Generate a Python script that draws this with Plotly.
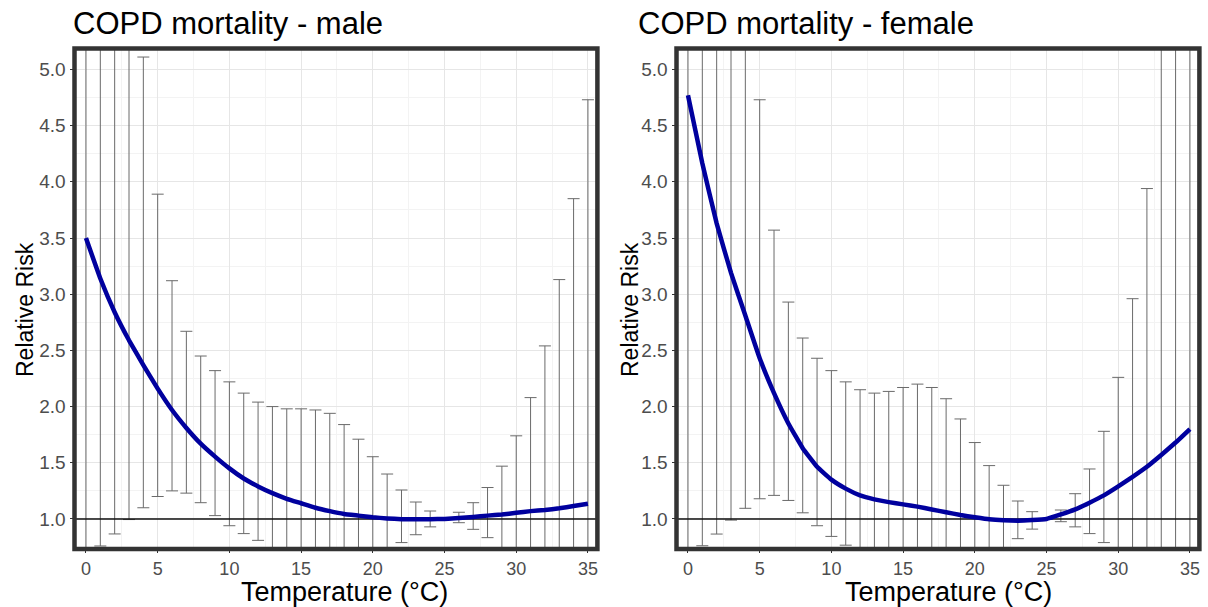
import plotly.graph_objects as go

# ---------------- data ----------------
temps = list(range(0, 36))

rr_male = [3.50, 3.14, 2.84, 2.59, 2.37, 2.16, 1.97, 1.81, 1.67, 1.555,
           1.45, 1.36, 1.29, 1.23, 1.18, 1.14, 1.10, 1.07, 1.045, 1.03,
           1.015, 1.005, 0.998, 0.997, 0.998, 1.0, 1.008, 1.018, 1.03, 1.04,
           1.055, 1.07, 1.08, 1.095, 1.115, 1.135]
lo_male = [0.60, 0.76, 0.867, 0.995, 1.10, 1.20, 1.25, 1.23, 1.145, 1.03,
           0.94, 0.87, 0.81, 0.745, 0.72, 0.71, 0.70, 0.70, 0.70, 0.70,
           0.71, 0.725, 0.79, 0.86, 0.93, 1.0, 0.967, 0.908, 0.834, 0.72,
           0.64, 0.56, 0.48, 0.40, 0.33, 0.27]
hi_male = [12.0, 10.0, 8.3, 6.7, 5.11, 3.89, 3.12, 2.67, 2.45, 2.32,
           2.22, 2.12, 2.04, 2.00, 1.98, 1.98, 1.97, 1.94, 1.84, 1.71,
           1.554, 1.40, 1.258, 1.151, 1.071, 1.0, 1.06, 1.145, 1.28, 1.47,
           1.74, 2.08, 2.54, 3.13, 3.85, 4.73]

rr_female = [4.77, 4.165, 3.63, 3.19, 2.81, 2.43, 2.12, 1.85, 1.63, 1.465,
             1.35, 1.27, 1.21, 1.175, 1.15, 1.13, 1.11, 1.085, 1.06, 1.035,
             1.015, 0.997, 0.988, 0.985, 0.99, 1.0, 1.04, 1.085, 1.145, 1.21,
             1.29, 1.375, 1.465, 1.57, 1.68, 1.80]
lo_female = [0.60, 0.762, 0.866, 0.99, 1.095, 1.18, 1.21, 1.165, 1.055, 0.94,
             0.845, 0.767, 0.72, 0.70, 0.69, 0.69, 0.69, 0.69, 0.69, 0.70,
             0.71, 0.72, 0.72, 0.825, 0.91, 1.0, 0.976, 0.93, 0.87, 0.79,
             0.70, 0.62, 0.55, 0.48, 0.42, 0.36]
hi_female = [18.0, 14.0, 11.0, 8.5, 6.3, 4.73, 3.57, 2.93, 2.61, 2.43,
             2.32, 2.22, 2.15, 2.12, 2.135, 2.17, 2.20, 2.17, 2.07, 1.89,
             1.68, 1.475, 1.30, 1.16, 1.065, 1.0, 1.08, 1.225, 1.445, 1.78,
             2.26, 2.96, 3.94, 5.3, 7.2, 9.8]

panel_titles = ["COPD mortality - male", "COPD mortality - female"]
x_title = "Temperature (°C)"
y_title = "Relative Risk"

# ---------------- figure ----------------
W, H = 1208, 607
FONT = "Liberation Sans, Arial, sans-serif"
LINE_BLUE = "#00009E"
ERR_COL = "#6a6a6a"


def px_x(p):
    return p / W


def px_y(p):
    return 1 - p / H


fig = go.Figure()

panels = [
    (rr_male, lo_male, hi_male, "x", "y"),
    (rr_female, lo_female, hi_female, "x2", "y2"),
]
for rr, lo, hi, xa, ya in panels:
    plus = [h - r for h, r in zip(hi, rr)]
    minus = [r - l for r, l in zip(rr, lo)]
    fig.add_trace(go.Scatter(
        x=temps, y=rr, mode="markers",
        marker=dict(size=1, color="rgba(0,0,0,0)"),
        error_y=dict(type="data", symmetric=False, array=plus,
                     arrayminus=minus, color=ERR_COL, thickness=1, width=6),
        xaxis=xa, yaxis=ya, showlegend=False, hoverinfo="skip"))
    fig.add_trace(go.Scatter(
        x=[-5, 40], y=[1, 1], mode="lines",
        line=dict(color="#111111", width=1.6),
        xaxis=xa, yaxis=ya, showlegend=False, hoverinfo="skip"))
    fig.add_trace(go.Scatter(
        x=temps, y=rr, mode="lines",
        line=dict(color=LINE_BLUE, width=4.5, shape="spline", smoothing=0.3),
        xaxis=xa, yaxis=ya, showlegend=False))

x_range = [-0.8, 35.66]
y_range = [0.733, 5.186]

xaxis_common = dict(
    range=x_range, tickmode="array", tickvals=[0, 5, 10, 15, 20, 25, 30, 35],
    showgrid=True, gridcolor="#E6E6E6", gridwidth=1,
    minor=dict(tickmode="array", tickvals=[2.5, 7.5, 12.5, 17.5, 22.5, 27.5, 32.5],
               showgrid=True, gridcolor="#F3F3F3", gridwidth=1),
    zeroline=False, showline=False,
    ticks="outside", ticklen=3, tickcolor="#333333", tickwidth=1,
    tickfont=dict(family=FONT, size=18, color="#4D4D4D"),
)
yaxis_common = dict(
    range=y_range, tickmode="array",
    tickvals=[1.0, 1.5, 2.0, 2.5, 3.0, 3.5, 4.0, 4.5, 5.0],
    ticktext=["1.0", "1.5", "2.0", "2.5", "3.0", "3.5", "4.0", "4.5", "5.0"],
    showgrid=True, gridcolor="#E6E6E6", gridwidth=1,
    minor=dict(tickmode="array",
               tickvals=[0.75, 1.25, 1.75, 2.25, 2.75, 3.25, 3.75, 4.25, 4.75],
               showgrid=True, gridcolor="#F3F3F3", gridwidth=1),
    zeroline=False, showline=False,
    ticks="outside", ticklen=4, tickcolor="#333333", tickwidth=1,
    tickfont=dict(family=FONT, size=19, color="#4D4D4D"),
)

ydom = [px_y(549), px_y(48.5)]
x1dom = [px_x(74.5), px_x(597.4)]
x2dom = [px_x(676.5), px_x(1199.4)]

fig.update_layout(
    width=W, height=H,
    margin=dict(l=0, r=0, t=0, b=0),
    paper_bgcolor="white", plot_bgcolor="white",
    xaxis=dict(xaxis_common, domain=x1dom, anchor="y"),
    yaxis=dict(yaxis_common, domain=ydom, anchor="x"),
    xaxis2=dict(xaxis_common, domain=x2dom, anchor="y2"),
    yaxis2=dict(yaxis_common, domain=ydom, anchor="x2"),
    font=dict(family=FONT),
)

# panel borders
for xr, yr in [("x domain", "y domain"), ("x2 domain", "y2 domain")]:
    fig.add_shape(type="rect", xref=xr, yref=yr, x0=0, x1=1, y0=0, y1=1,
                  line=dict(color="#333333", width=4.5), layer="above")

# text
ann = []
ann.append(dict(text=panel_titles[0], x=px_x(71), y=px_y(24), xanchor="left",
                yanchor="middle", font=dict(size=31, color="black")))
ann.append(dict(text=panel_titles[1], x=px_x(636), y=px_y(24), xanchor="left",
                yanchor="middle", font=dict(size=31, color="black")))
ann.append(dict(text=x_title, x=px_x(344), y=px_y(592), xanchor="center",
                yanchor="middle", font=dict(size=27, color="black")))
ann.append(dict(text=x_title, x=px_x(948), y=px_y(592), xanchor="center",
                yanchor="middle", font=dict(size=27, color="black")))
ann.append(dict(text=y_title, x=px_x(25), y=px_y(310), xanchor="center",
                yanchor="middle", textangle=-90, font=dict(size=23, color="black")))
ann.append(dict(text=y_title, x=px_x(630), y=px_y(310), xanchor="center",
                yanchor="middle", textangle=-90, font=dict(size=23, color="black")))
for a in ann:
    a.update(xref="paper", yref="paper", showarrow=False)
    a["font"]["family"] = FONT
fig.update_layout(annotations=ann)

fig.write_html(
    "out.html",
    config={"displayModeBar": False},
    post_script="document.body.style.margin='0';document.body.style.overflow='hidden';",
)
